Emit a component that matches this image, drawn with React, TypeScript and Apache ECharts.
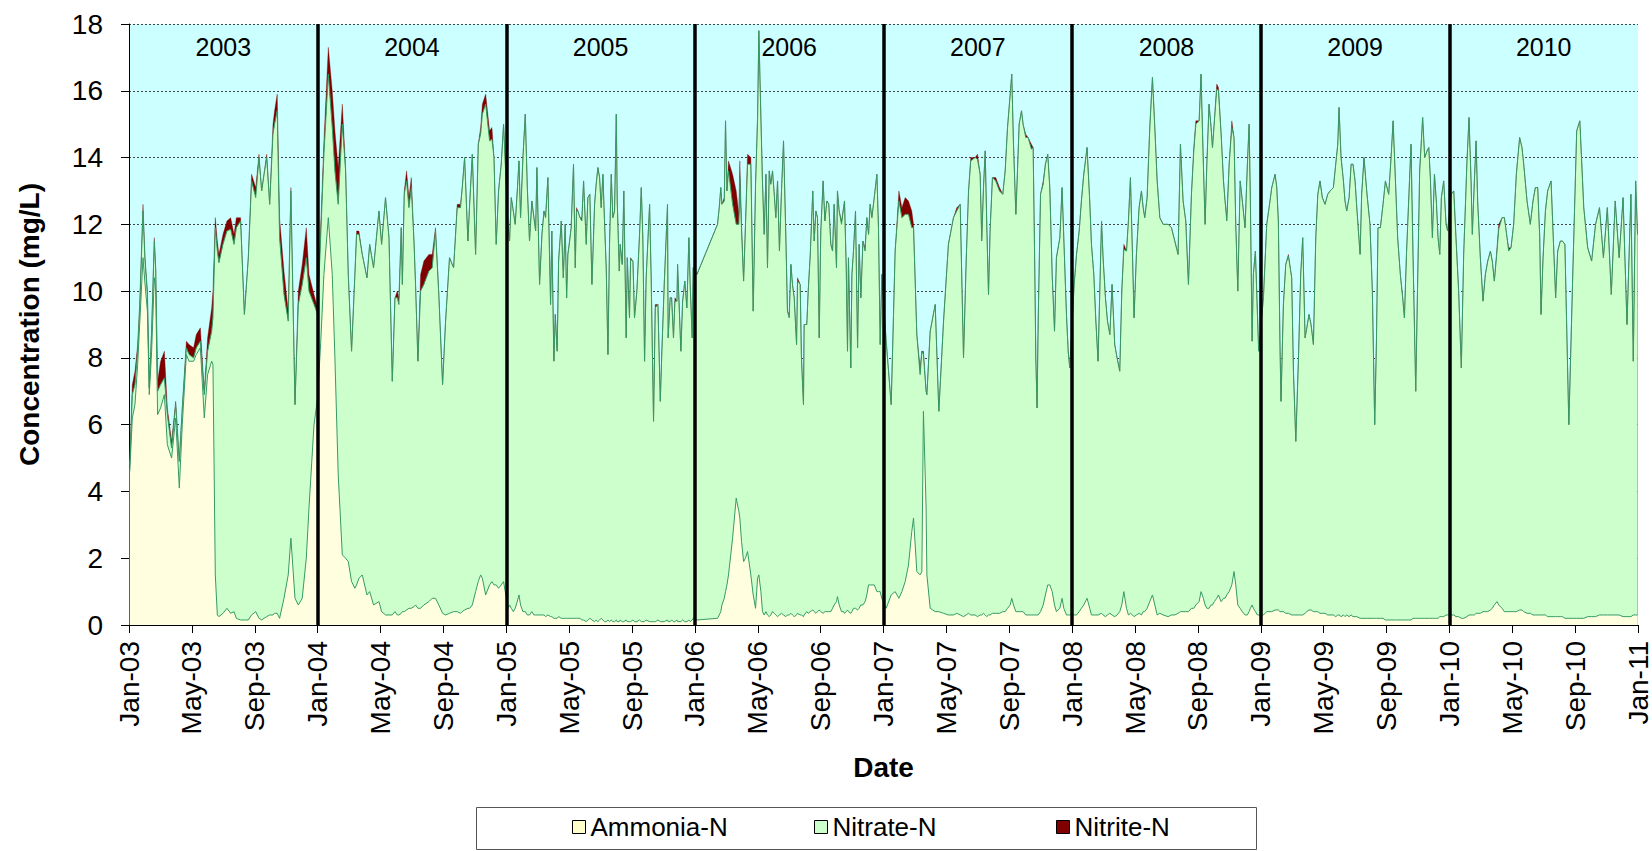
import React, { useEffect, useRef } from "react";
import * as echarts from "echarts";

// ---------- data (months within each year, values in mg/L) ----------
const YEARS = [2003, 2004, 2005, 2006, 2007, 2008, 2009, 2010];
const MONTH_NAMES = ["Jan", "Feb", "Mar", "Apr", "May", "Jun", "Jul", "Aug", "Sep", "Oct", "Nov", "Dec"];
const SERIES_NAMES = ["Ammonia-N", "Nitrate-N", "Nitrite-N"];

const months2003 = [0.05,0.21,0.38,0.55,0.68,0.89,1.02,1.17,1.29,1.44,1.61,1.70,1.82,2.01,2.25,2.44,2.71,2.97,3.2,3.39,3.65,3.82,4.11,4.28,4.54,4.79,5.0,5.26,5.34,5.49,5.62,5.72,5.98,6.23,6.47,6.68,6.83,7.1,7.34,7.59,7.8,8.06,8.27,8.44,8.59,8.76,8.95,9.16,9.26,9.43,9.58,9.86,10.13,10.3,10.56,10.77,11.02,11.28,11.45,11.77];
const ammonia2003 = [4.6,6.2,6.6,7.8,9.0,11.0,10.2,9.4,6.9,8.2,10.4,10.0,6.3,6.5,6.9,5.4,5.0,6.2,4.1,6.0,8.1,7.9,7.9,8.1,8.3,6.2,7.5,7.9,7.8,1.5,0.3,0.25,0.35,0.5,0.35,0.4,0.2,0.15,0.15,0.15,0.3,0.4,0.2,0.15,0.2,0.25,0.3,0.3,0.35,0.35,0.2,0.8,1.5,2.6,0.8,0.6,0.8,2.0,3.5,6.0];
const nitrate2003 = [0.2,0.7,0.6,0.4,0.5,1.4,0.7,0.5,0.2,0.6,1.1,0.6,0.7,0.7,0.5,0.9,0.3,0.4,0.8,0.5,0.2,0.2,0.1,0.2,0.2,0.7,0.7,0.9,1.4,10.4,10.9,10.6,11.05,11.3,11.5,11.0,11.7,11.95,9.15,10.85,13.0,12.4,13.8,12.85,13.3,13.75,12.3,14.4,14.65,15.05,11.4,9.1,7.6,10.4,5.8,9.0,9.4,9.0,6.5,3.6];
const nitrite2003 = [0.1,0.3,0.4,0.2,0.1,0.2,0.1,0.1,0,0,0.1,0.1,0.3,0.7,0.8,0.2,0.2,0.1,0,0,0.2,0.3,0.3,0.4,0.4,0.1,0.4,0.7,0.8,0.3,0.3,0.25,0.3,0.3,0.35,0.3,0.3,0.1,0,0,0.2,0.3,0.1,0,0,0.1,0,0.3,0.4,0.5,0.6,0.7,0.3,0.1,0,0.4,0.6,0.9,0.5,0.3];

const months2004 = [0.0,0.2,0.4,0.68,0.93,1.1,1.31,1.57,1.78,1.95,2.16,2.37,2.48,2.63,2.84,3.14,3.31,3.56,3.9,4.07,4.32,4.54,4.75,4.92,5.07,5.17,5.32,5.39,5.51,5.66,5.81,5.96,6.13,6.23,6.38,6.55,6.76,7.08,7.29,7.5,7.71,7.95,8.14,8.39,8.65,8.88,9.09,9.2,9.35,9.56,9.67,9.84,10.05,10.22,10.37,10.48,10.69,10.94,11.09,11.22,11.36,11.51,11.68,11.83];
const ammonia2004 = [6.8,8.5,10.5,12.2,10.5,8.0,4.5,2.1,2.0,1.9,1.3,1.1,1.2,1.4,1.5,0.9,1.0,0.6,0.7,0.4,0.3,0.3,0.3,0.4,0.3,0.3,0.35,0.4,0.4,0.45,0.5,0.5,0.55,0.6,0.5,0.5,0.6,0.7,0.8,0.8,0.6,0.35,0.3,0.35,0.4,0.4,0.35,0.4,0.45,0.5,0.5,0.6,1.0,1.3,1.5,1.4,0.9,1.2,1.3,1.2,1.2,1.1,1.2,1.3];
const nitrate2004 = [2.5,3.2,3.6,4.3,4.4,5.6,8.1,12.9,11.6,8.6,6.9,9.4,10.5,10.3,9.6,9.5,10.4,10.1,11.7,11.0,12.5,11.3,7.0,9.4,9.5,9.3,11.55,9.8,12.5,12.85,12.0,12.6,10.95,9.6,7.4,9.5,9.6,9.9,9.9,11.0,9.3,6.85,8.8,10.65,10.3,12.1,12.15,12.7,13.55,11.0,12.1,13.5,10.1,13.1,13.2,13.9,14.7,13.3,13.25,12.8,10.2,11.9,12.6,13.7];
const nitrite2004 = [0.2,0.3,0.4,0.8,1.1,1.2,1.1,0.6,0.1,0,0,0,0.1,0.1,0,0,0,0,0,0,0,0,0,0,0.2,0.2,0,0,0.1,0.3,0.3,0.3,0,0,0,0.5,0.7,0.5,0.4,0.1,0,0,0,0,0,0.1,0.1,0,0,0,0,0,0,0,0.2,0.3,0.3,0.3,0.35,0,0,0,0,0];

const months2005 = [0.11,0.21,0.32,0.45,0.57,0.7,0.81,0.91,1.06,1.21,1.34,1.48,1.63,1.76,1.87,1.95,2.12,2.27,2.4,2.5,2.65,2.82,2.9,3.03,3.12,3.24,3.33,3.5,3.63,3.75,3.84,3.92,4.03,4.13,4.28,4.39,4.47,4.56,4.69,4.81,4.92,5.09,5.19,5.32,5.45,5.62,5.72,5.83,5.94,6.04,6.15,6.25,6.36,6.47,6.57,6.68,6.78,6.89,7.0,7.06,7.19,7.25,7.38,7.48,7.63,7.7,7.84,7.91,8.06,8.16,8.31,8.48,8.59,8.69,8.8,8.9,9.12,9.22,9.37,9.48,9.65,9.8,9.9,10.05,10.26,10.3,10.43,10.52,10.64,10.73,10.86,10.9,11.11,11.22,11.36,11.49,11.62,11.7,11.83,11.89];
const ammonia2005 = [0.5,0.6,0.5,0.4,0.5,0.7,0.9,0.6,0.4,0.4,0.3,0.3,0.4,0.3,0.3,0.3,0.3,0.3,0.3,0.25,0.3,0.25,0.25,0.2,0.2,0.2,0.25,0.2,0.2,0.2,0.2,0.2,0.2,0.2,0.2,0.2,0.2,0.2,0.2,0.15,0.15,0.1,0.15,0.2,0.15,0.1,0.15,0.1,0.15,0.2,0.15,0.1,0.1,0.15,0.1,0.15,0.1,0.1,0.15,0.1,0.1,0.15,0.1,0.1,0.15,0.1,0.1,0.1,0.15,0.1,0.1,0.15,0.1,0.1,0.1,0.15,0.1,0.1,0.1,0.1,0.15,0.1,0.1,0.1,0.15,0.1,0.1,0.15,0.1,0.1,0.15,0.1,0.1,0.15,0.1,0.1,0.15,0.1,0.15,0.2];
const nitrate2005 = [11.5,10.9,12.3,12.0,11.5,12.3,13.0,11.6,13.6,14.9,12.8,11.2,12.3,11.9,11.5,13.4,9.9,11.4,12.1,11.95,13.1,9.35,11.55,7.7,9.1,8.0,10.65,11.9,10.2,11.8,9.6,10.9,11.3,11.7,13.6,10.5,12.2,12.2,12.0,11.95,13.15,11.3,12.65,12.7,10.05,12.5,13.05,13.6,13.25,12.3,13.35,12.0,10.6,7.95,11.3,13.35,12.1,12.3,15.15,12.6,10.5,11.25,10.7,12.9,8.45,10.9,9.1,10.85,10.75,9.1,9.9,11.55,13.0,11.5,7.8,10.25,12.5,10.3,6.0,9.4,9.45,6.6,8.1,10.1,12.45,8.5,9.7,9.65,8.5,9.6,9.55,10.7,8.1,9.55,10.2,9.4,11.45,10.1,8.45,10.5];
const nitrite2005 = [0,0,0,0,0,0,0,0,0,0,0,0,0,0,0,0,0,0,0,0,0,0,0,0,0,0,0,0,0,0,0,0,0,0,0,0,0.1,0,0,0.1,0,0,0,0,0,0,0,0,0,0,0,0,0,0,0,0,0,0,0,0,0,0,0,0,0,0,0,0.05,0,0,0,0,0,0,0,0,0,0,0,0.1,0,0,0,0,0,0,0,0,0,0.1,0,0,0,0,0,0,0,0,0,0];

const months2006 = [0.13,1.44,1.55,1.65,1.72,1.87,1.95,2.04,2.14,2.4,2.63,2.8,2.86,2.97,3.1,3.22,3.35,3.56,3.71,3.86,3.99,4.07,4.2,4.3,4.41,4.52,4.62,4.73,4.83,4.94,5.05,5.15,5.26,5.38,5.51,5.64,5.79,5.89,6.0,6.11,6.21,6.32,6.47,6.53,6.7,6.78,6.91,6.95,7.12,7.21,7.34,7.5,7.59,7.7,7.8,7.91,8.01,8.16,8.27,8.4,8.52,8.65,8.76,8.86,9.01,9.07,9.18,9.33,9.46,9.52,9.63,9.71,9.77,9.92,9.99,10.09,10.22,10.35,10.45,10.56,10.69,10.83,10.94,11.05,11.15,11.26,11.41,11.58,11.68,11.79,11.89];
const ammonia2006 = [0.15,0.2,0.3,0.4,0.6,0.8,1.0,1.2,1.5,2.6,3.8,3.4,3.2,2.5,1.9,2.0,2.2,1.5,0.9,0.5,1.4,1.5,1.0,0.4,0.3,0.4,0.3,0.25,0.3,0.4,0.35,0.3,0.25,0.3,0.35,0.3,0.25,0.3,0.3,0.35,0.3,0.25,0.3,0.35,0.3,0.3,0.25,0.3,0.4,0.35,0.4,0.45,0.4,0.35,0.4,0.45,0.4,0.35,0.4,0.4,0.4,0.4,0.5,0.6,0.7,0.85,0.6,0.4,0.4,0.35,0.4,0.45,0.4,0.35,0.4,0.5,0.5,0.45,0.5,0.6,0.6,0.7,0.9,1.2,1.2,1.2,1.2,1.0,1.0,1.0,0.8];
const nitrate2006 = [10.35,11.8,12.2,12.7,12.0,11.9,14.1,11.8,12.1,10.0,8.2,8.6,10.2,9.3,8.4,10.0,11.6,12.3,8.5,12.7,13.8,16.3,14.2,12.9,11.4,13.1,10.4,13.35,12.9,13.2,12.55,11.9,13.05,10.9,12.65,14.2,11.35,9.1,8.9,10.45,9.9,9.55,8.1,9.95,9.9,7.7,6.35,8.7,8.6,9.65,10.7,12.55,11.1,12.05,11.8,8.15,11.4,12.95,11.7,12.3,12.2,11.0,10.7,12.0,10.0,12.15,11.8,11.6,12.1,12.35,10.3,7.75,10.6,7.35,10.1,10.7,11.9,7.85,10.9,9.2,10.9,10.5,11.3,10.5,11.4,11.0,11.6,12.5,10.9,7.4,9.7];
const nitrite2006 = [0,0,0,0,0,0.1,0,0,0.3,0.9,1.0,0.3,0.5,0.2,0,0,0.3,0.2,0,0,0,0,0,0,0,0,0,0,0,0,0,0,0,0,0,0,0,0,0.1,0,0,0,0,0.1,0,0,0,0,0,0,0,0,0,0,0,0,0,0,0,0,0,0,0,0,0,0,0,0.1,0,0,0,0,0,0,0,0,0,0,0,0,0,0.1,0,0,0,0,0,0,0,0,0];

const months2007 = [0.17,0.49,0.74,0.98,1.17,1.38,1.59,1.8,1.91,2.12,2.33,2.44,2.54,2.71,2.76,2.97,3.29,3.52,3.82,4.13,4.45,4.66,4.88,5.09,5.26,5.41,5.55,5.83,5.98,6.15,6.25,6.36,6.47,6.57,6.68,6.78,6.93,7.14,7.38,7.59,7.74,7.89,8.06,8.16,8.27,8.42,8.5,8.63,8.78,8.88,9.05,9.2,9.41,9.52,9.63,9.69,9.77,9.84,9.99,10.16,10.3,10.45,10.58,10.73,10.88,11.0,11.22,11.36,11.47,11.64,11.75,11.85];
const ammonia2007 = [0.5,0.9,1.0,0.8,1.0,1.3,1.8,2.8,3.2,1.6,1.5,1.6,6.4,3.5,1.5,0.5,0.4,0.4,0.35,0.3,0.3,0.35,0.3,0.25,0.3,0.35,0.3,0.3,0.25,0.3,0.3,0.35,0.3,0.25,0.3,0.3,0.35,0.35,0.35,0.4,0.4,0.5,0.6,0.8,0.6,0.4,0.4,0.4,0.4,0.4,0.3,0.3,0.3,0.3,0.3,0.3,0.3,0.3,0.4,0.6,0.9,1.2,1.2,1.0,0.6,0.4,0.5,0.8,0.5,0.3,0.3,0.3];
const nitrate2007 = [8.0,5.7,10.2,11.9,11.2,11.0,10.5,9.1,8.7,7.1,6.0,6.6,1.7,3.5,5.4,8.3,9.2,6.0,8.75,11.1,11.9,12.05,12.3,7.75,10.6,12.65,13.6,13.7,13.7,13.2,11.2,12.75,13.9,11.75,9.6,11.5,13.05,12.95,12.65,12.5,13.2,14.4,15.3,15.7,13.8,11.9,12.9,14.6,15.0,14.6,14.3,14.3,13.95,14.0,10.2,7.7,6.2,8.8,12.5,12.6,12.9,12.9,11.9,9.5,8.2,10.6,11.1,12.3,11.1,9.0,7.9,7.4];
const nitrite2007 = [0,0,0,0.3,0.3,0.5,0.4,0.5,0.1,0,0.2,0,0.1,0,0,0,0,0,0,0,0,0.1,0,0,0,0,0.1,0,0.15,0,0.1,0,0,0,0,0,0,0.1,0.1,0,0,0,0,0,0,0,0,0,0,0,0.1,0,0.15,0,0,0,0,0,0,0.1,0,0,0,0,0,0,0,0,0,0,0,0];

const months2008 = [0.13,0.28,0.45,0.59,0.74,0.95,1.12,1.23,1.38,1.51,1.65,1.87,1.97,2.12,2.25,2.4,2.54,2.71,2.86,3.03,3.16,3.29,3.46,3.58,3.71,3.84,3.94,4.09,4.26,4.41,4.52,4.62,4.77,4.94,5.11,5.26,5.41,5.58,5.79,6.11,6.32,6.53,6.74,6.89,7.06,7.23,7.4,7.59,7.74,7.87,8.08,8.2,8.35,8.46,8.57,8.71,8.84,8.93,9.05,9.2,9.31,9.48,9.63,9.73,9.84,9.99,10.16,10.3,10.41,10.54,10.69,10.83,11.0,11.15,11.26,11.34,11.45,11.53,11.66,11.79,11.87];
const ammonia2008 = [0.3,0.3,0.4,0.5,0.6,0.8,0.5,0.3,0.3,0.3,0.3,0.35,0.3,0.25,0.3,0.35,0.3,0.25,0.3,0.4,0.6,1.0,0.5,0.3,0.35,0.3,0.25,0.3,0.35,0.3,0.4,0.4,0.5,0.7,0.9,0.6,0.3,0.35,0.3,0.25,0.3,0.3,0.35,0.4,0.4,0.4,0.4,0.5,0.5,0.6,0.7,1.0,0.8,0.6,0.5,0.5,0.6,0.6,0.7,0.8,0.9,0.7,0.8,0.8,0.9,1.0,1.2,1.6,1.2,0.6,0.5,0.4,0.3,0.3,0.4,0.5,0.6,0.5,0.4,0.3,0.3];
const nitrate2008 = [9.9,10.8,11.4,12.2,12.9,13.5,12.2,11.1,10.2,8.8,7.6,11.75,10.7,9.55,8.8,8.35,9.9,8.15,7.7,7.2,9.4,10.25,10.7,11.8,13.05,10.8,8.95,10.8,12.15,12.7,12.1,11.8,12.3,14.2,15.5,14.3,13.0,11.85,11.7,11.75,11.6,11.2,10.75,14.0,12.3,11.7,9.8,12.4,13.7,14.4,14.4,15.5,13.0,11.4,13.3,15.1,14.3,13.7,14.4,15.25,15.1,14.0,12.5,11.9,11.2,12.8,13.7,13.0,10.8,9.4,12.8,12.3,11.6,13.5,14.6,12.2,7.9,10.0,10.8,9.0,7.9];
const nitrite2008 = [0,0,0,0,0,0,0,0,0,0,0,0,0,0,0,0,0,0,0,0,0,0.15,0,0,0,0,0,0,0,0,0,0,0,0,0,0,0,0,0,0,0,0,0,0,0,0,0,0,0.1,0.1,0,0,0,0,0,0,0,0,0,0.15,0.1,0,0,0,0.1,0,0.2,0,0,0,0,0,0,0,0,0,0,0,0,0,0];

const months2009 = [0.17,0.38,0.53,0.7,0.91,1.02,1.12,1.23,1.29,1.44,1.59,1.76,1.97,2.08,2.23,2.4,2.54,2.67,2.82,2.93,3.07,3.2,3.35,3.5,3.63,3.77,3.92,4.09,4.26,4.41,4.62,4.77,4.9,4.98,5.11,5.26,5.36,5.47,5.62,5.75,5.87,6.0,6.11,6.32,6.42,6.57,6.74,6.95,7.1,7.25,7.36,7.46,7.61,7.78,7.93,8.14,8.29,8.42,8.57,8.71,8.88,9.03,9.14,9.27,9.41,9.56,9.69,9.86,9.99,10.11,10.3,10.43,10.58,10.69,10.79,10.92,11.05,11.17,11.28,11.39,11.49,11.64,11.79,11.89];
const ammonia2009 = [0.3,0.4,0.4,0.4,0.45,0.45,0.45,0.4,0.4,0.4,0.35,0.35,0.3,0.3,0.3,0.3,0.3,0.3,0.35,0.4,0.45,0.45,0.4,0.4,0.4,0.35,0.35,0.35,0.3,0.3,0.3,0.25,0.3,0.3,0.25,0.3,0.25,0.3,0.25,0.3,0.25,0.25,0.25,0.2,0.2,0.2,0.2,0.2,0.2,0.2,0.2,0.2,0.2,0.2,0.15,0.15,0.15,0.15,0.15,0.15,0.15,0.15,0.15,0.15,0.15,0.15,0.2,0.2,0.2,0.2,0.2,0.2,0.2,0.2,0.2,0.2,0.2,0.2,0.2,0.25,0.25,0.25,0.3,0.3];
const nitrate2009 = [9.5,11.6,12.1,12.7,13.05,12.65,11.65,7.8,6.3,9.2,10.45,10.7,10.1,7.3,5.2,7.7,10.2,11.3,8.25,8.5,8.85,8.55,8.0,11.2,12.5,12.95,12.45,12.25,12.6,12.7,12.8,13.55,14.1,15.2,13.75,13.0,12.45,12.1,12.55,13.5,13.55,13.05,12.25,10.9,12.7,13.8,12.8,11.8,9.8,5.8,8.3,11.7,11.7,12.4,13.15,12.75,13.85,14.95,13.15,11.45,10.35,9.65,9.05,10.95,12.55,14.25,10.8,6.8,10.3,13.4,15.0,13.8,14.0,14.1,13.2,11.4,13.3,12.5,11.4,10.85,12.55,13.05,11.7,11.5];
const nitrite2009 = [0,0,0,0,0,0,0,0,0,0,0,0.05,0,0,0,0,0,0,0,0,0,0,0,0,0,0,0,0,0,0,0,0,0,0,0,0,0,0,0,0,0,0,0,0,0,0,0,0,0,0,0,0,0,0,0,0,0,0,0,0,0,0,0,0,0,0,0,0,0,0,0,0,0,0,0,0,0,0,0,0,0,0,0,0];

const months2010 = [0.11,0.28,0.42,0.59,0.76,0.91,1.12,1.25,1.38,1.46,1.59,1.7,1.8,1.97,2.14,2.29,2.44,2.61,2.73,2.86,3.03,3.14,3.35,3.5,3.67,3.77,3.92,4.09,4.26,4.47,4.62,4.73,4.94,5.15,5.32,5.47,5.62,5.75,5.83,5.96,6.11,6.25,6.47,6.61,6.76,6.89,7.06,7.19,7.35,7.6,7.85,8.1,8.3,8.55,8.8,9.05,9.3,9.55,9.8,10.05,10.3,10.55,10.8,11.05,11.3,11.55,11.7,11.85,11.97];
const ammonia2010 = [0.3,0.3,0.25,0.25,0.2,0.2,0.25,0.3,0.3,0.3,0.3,0.35,0.35,0.35,0.4,0.4,0.4,0.45,0.5,0.6,0.7,0.6,0.5,0.4,0.4,0.4,0.4,0.4,0.4,0.45,0.45,0.4,0.35,0.35,0.3,0.3,0.3,0.3,0.3,0.3,0.3,0.25,0.25,0.25,0.25,0.25,0.25,0.25,0.2,0.2,0.2,0.2,0.2,0.2,0.25,0.25,0.25,0.3,0.3,0.3,0.3,0.3,0.3,0.25,0.25,0.25,0.3,0.3,0.3];
const nitrate2010 = [12.6,12.7,11.35,9.75,7.5,10.9,13.65,14.9,13.0,11.4,13.0,14.15,12.35,10.65,9.3,10.1,10.5,10.75,10.4,9.7,10.5,11.25,11.7,11.8,11.2,10.8,10.9,11.6,13.1,14.15,13.85,13.4,12.35,11.65,12.4,12.8,12.8,11.3,9.0,10.7,12.1,12.75,13.05,11.35,9.55,10.95,11.25,11.25,11.2,5.8,10.3,14.6,14.9,12.3,11.05,10.65,11.75,12.2,10.7,12.2,9.6,12.4,10.7,12.55,8.75,12.65,7.6,13.0,11.4];
const nitrite2010 = [0,0,0,0,0,0,0,0,0,0,0,0,0,0,0,0,0,0,0,0,0.1,0.15,0,0,0,0.1,0,0,0,0,0,0,0,0,0,0,0,0,0,0,0,0,0,0,0,0,0,0,0,0,0,0,0,0,0,0,0,0,0,0,0,0,0,0,0,0,0,0,0,0];

const sampleMonths = [months2003, months2004, months2005, months2006, months2007, months2008, months2009, months2010];
const ammoniaByYear = [ammonia2003, ammonia2004, ammonia2005, ammonia2006, ammonia2007, ammonia2008, ammonia2009, ammonia2010];
const nitrateByYear = [nitrate2003, nitrate2004, nitrate2005, nitrate2006, nitrate2007, nitrate2008, nitrate2009, nitrate2010];
const nitriteByYear = [nitrite2003, nitrite2004, nitrite2005, nitrite2006, nitrite2007, nitrite2008, nitrite2009, nitrite2010];

const Y_MIN = 0;
const Y_MAX = 18;
const Y_STEP = 2;
const X_STEP = 4; // months between date ticks

// Stacked points: x = months since Jan 2003, y = sum of the given layers
function stackedPoints(layers: number[][][]): [number, number][] {
  const pts: [number, number][] = [];
  sampleMonths.forEach((ms, i) => {
    ms.forEach((m, j) => {
      let sum = 0;
      layers.forEach((layer) => {
        sum += layer[i][j];
      });
      pts.push([i * 12 + m, Math.round(sum * 1000) / 1000]);
    });
  });
  return pts;
}

const FONT = "'Liberation Sans', Arial, sans-serif";

export default function App() {
  const ref = useRef<HTMLDivElement>(null);

  useEffect(() => {
    if (!ref.current) return;
    const chart = echarts.init(ref.current, undefined, { renderer: "svg" });
    const totalMonths = YEARS.length * 12;
    const lineGreen = "#359a66";

    const legendItem = (name: string, color: string, left: number) => ({
      show: true,
      left,
      top: 814,
      padding: 0,
      itemWidth: 13,
      itemHeight: 13,
      itemGap: 0,
      selectedMode: false,
      textStyle: { fontSize: 26, color: "#000", fontFamily: FONT },
      data: [{ name, icon: "rect", itemStyle: { color, borderColor: "#000", borderWidth: 1 } }],
    });

    chart.setOption({
      animation: false,
      backgroundColor: "#ffffff",
      textStyle: { fontFamily: FONT },
      grid: {
        left: 129,
        right: 13,
        top: 24,
        bottom: 226,
        show: true,
        backgroundColor: "#CCFFFF",
        borderWidth: 0,
      },
      legend: [
        legendItem(SERIES_NAMES[0], "#FFFFCC", 572),
        legendItem(SERIES_NAMES[1], "#CCFFCC", 814),
        legendItem(SERIES_NAMES[2], "#800000", 1056),
      ],
      graphic: [
        {
          type: "rect",
          left: 476,
          top: 807,
          z: 0,
          shape: { width: 780, height: 42 },
          style: { fill: "#ffffff", stroke: "#555", lineWidth: 1 },
        },
      ],
      xAxis: {
        type: "value",
        min: 0,
        max: totalMonths,
        interval: X_STEP,
        name: "Date",
        nameLocation: "middle",
        nameGap: 128,
        nameTextStyle: { fontSize: 28, fontWeight: "bold", color: "#000", fontFamily: FONT },
        axisLine: { show: true, onZero: false, lineStyle: { color: "#000", width: 1 } },
        axisTick: { show: true, inside: false, length: 8, lineStyle: { color: "#000" } },
        axisLabel: {
          rotate: 90,
          fontSize: 28,
          margin: 16,
          color: "#000",
          fontFamily: FONT,
          formatter: (v: number) => {
            const m = Math.round(v);
            const yr = YEARS[0] + Math.floor(m / 12);
            return `${MONTH_NAMES[m % 12]}-${String(yr % 100).padStart(2, "0")}`;
          },
        },
        splitLine: { show: false },
      },
      yAxis: {
        type: "value",
        min: Y_MIN,
        max: Y_MAX,
        interval: Y_STEP,
        name: "Concentration (mg/L)",
        nameLocation: "middle",
        nameGap: 86,
        nameTextStyle: { fontSize: 28, fontWeight: "bold", color: "#000", fontFamily: FONT },
        axisLine: { show: true, lineStyle: { color: "#000", width: 1 } },
        axisTick: { show: true, inside: false, length: 8, lineStyle: { color: "#000" } },
        axisLabel: { fontSize: 28, margin: 26, color: "#000", fontFamily: FONT },
        splitLine: { show: true, lineStyle: { color: "#444", width: 1, type: [2, 2] } },
      },
      series: [
        // drawn back to front: total (nitrite on top), ammonia+nitrate, ammonia
        {
          name: SERIES_NAMES[2],
          type: "line",
          data: stackedPoints([ammoniaByYear, nitrateByYear, nitriteByYear]),
          symbol: "none",
          showSymbol: false,
          lineStyle: { width: 0.6, color: "#800000", opacity: 0.6 },
          itemStyle: { color: "#800000" },
          areaStyle: { color: "#800000", opacity: 1 },
        },
        {
          name: SERIES_NAMES[1],
          type: "line",
          data: stackedPoints([ammoniaByYear, nitrateByYear]),
          symbol: "none",
          showSymbol: false,
          lineStyle: { color: lineGreen, width: 1 },
          itemStyle: { color: "#CCFFCC" },
          areaStyle: { color: "#CCFFCC", opacity: 1 },
        },
        {
          name: SERIES_NAMES[0],
          type: "line",
          data: stackedPoints([ammoniaByYear]),
          symbol: "none",
          showSymbol: false,
          lineStyle: { color: lineGreen, width: 1 },
          itemStyle: { color: "#FFFFCC" },
          areaStyle: { color: "#FFFFE0", opacity: 1 },
          markArea: {
            silent: true,
            itemStyle: { color: "rgba(0,0,0,0)" },
            label: {
              show: true,
              position: "insideTop",
              distance: 10,
              fontSize: 25,
              color: "#000",
              fontFamily: FONT,
            },
            data: YEARS.map((y, i) => [
              { name: String(y), xAxis: i * 12 },
              { xAxis: (i + 1) * 12 },
            ]),
          },
          markLine: {
            silent: true,
            symbol: ["none", "none"],
            label: { show: false },
            lineStyle: { color: "#000", width: 3.5, type: "solid" },
            data: YEARS.slice(1).map((_, i) => ({ xAxis: (i + 1) * 12 })),
          },
        },
      ],
    });

    return () => chart.dispose();
  }, []);

  return (
    <div
      ref={ref}
      style={{ position: "fixed", left: 0, top: 0, width: 1652, height: 851, background: "#fff" }}
    />
  );
}
